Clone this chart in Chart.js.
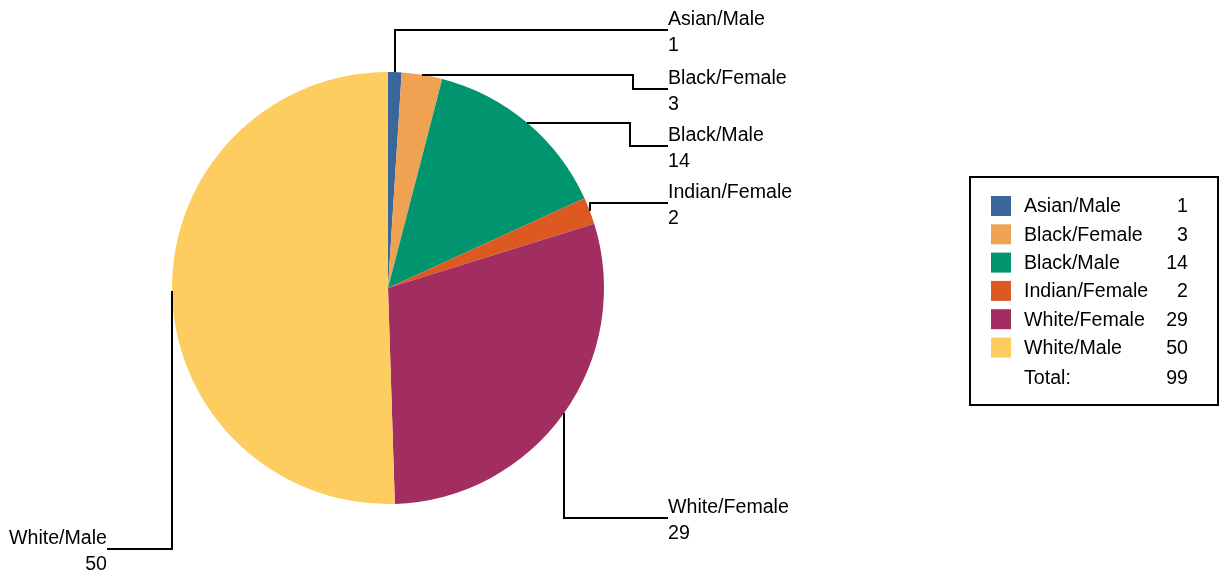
<!DOCTYPE html>
<html>
<head>
<meta charset="utf-8">
<script src="https://cdn.jsdelivr.net/npm/chart.js@4.4.1/dist/chart.umd.min.js"></script>
<style>
  body { margin: 0; background: #fff; }
  #wrap { width: 1231px; height: 579px; }
</style>
</head>
<body>
<div id="wrap"><canvas id="pieChart" width="1231" height="579"></canvas></div>
<script>
// data
const categories = ['Asian/Male', 'Black/Female', 'Black/Male', 'Indian/Female', 'White/Female', 'White/Male'];
const counts = [1, 3, 14, 2, 29, 50];
const sliceColors = ['#3B6699', '#EFA352', '#00956F', '#DC5A21', '#A22D60', '#FDCD60'];

const FONT = '19.6px "Liberation Sans", Arial, sans-serif';

// where each callout ends up (line y at the label, optional elbow x, side)
const leaderLayout = [
    {lineY: 30,  elbowX: null, side: 'right'},
    {lineY: 89,  elbowX: 633,  side: 'right'},
    {lineY: 146, elbowX: 630,  side: 'right'},
    {lineY: 203, elbowX: null, side: 'right'},
    {lineY: 518, elbowX: null, side: 'right'},
    {lineY: 549, elbowX: null, side: 'left'},
];
const rightLabelX = 668;
const leftLabelX = 107;

const leaderPlugin = {
    id: 'leaders',
    afterDatasetsDraw(chart) {
        const ctx = chart.ctx;
        const arcs = chart.getDatasetMeta(0).data;
        ctx.save();
        ctx.strokeStyle = '#000';
        ctx.lineWidth = 2;
        ctx.fillStyle = '#000';
        ctx.font = FONT;
        arcs.forEach((arc, i) => {
            const p = arc.getProps(['x', 'y', 'startAngle', 'endAngle', 'outerRadius'], true);
            const mid = (p.startAngle + p.endAngle) / 2;
            const sx = Math.round(p.x + Math.cos(mid) * p.outerRadius);
            const sy = Math.round(p.y + Math.sin(mid) * p.outerRadius);
            const L = leaderLayout[i];
            const endX = L.side === 'right' ? rightLabelX : leftLabelX;

            ctx.beginPath();
            ctx.moveTo(sx, sy);
            if (L.elbowX !== null) {
                ctx.lineTo(L.elbowX, sy);
                ctx.lineTo(L.elbowX, L.lineY);
            } else {
                ctx.lineTo(sx, L.lineY);
            }
            ctx.lineTo(endX, L.lineY);
            ctx.stroke();

            ctx.textAlign = L.side === 'right' ? 'left' : 'right';
            ctx.textBaseline = 'alphabetic';
            ctx.fillText(categories[i], endX, L.lineY - 5);
            ctx.fillText(String(counts[i]), endX, L.lineY + 21);
        });
        ctx.restore();
    }
};

const legendPlugin = {
    id: 'valueLegend',
    afterDraw(chart) {
        const ctx = chart.ctx;
        const box = {x: 970, y: 177, w: 248, h: 228};
        const rowH = 28.3;
        ctx.save();
        ctx.strokeStyle = '#000';
        ctx.lineWidth = 2;
        ctx.strokeRect(box.x, box.y, box.w, box.h);
        ctx.font = FONT;
        ctx.textBaseline = 'middle';
        categories.forEach((name, i) => {
            const cy = 206 + i * rowH;
            ctx.fillStyle = sliceColors[i];
            ctx.fillRect(991, cy - 10, 20, 20);
            ctx.fillStyle = '#000';
            ctx.textAlign = 'left';
            ctx.fillText(name, 1024, cy + 1);
            ctx.textAlign = 'right';
            ctx.fillText(String(counts[i]), 1188, cy + 1);
        });
        const total = counts.reduce((a, b) => a + b, 0);
        const ty = 206 + categories.length * rowH + 3;
        ctx.textAlign = 'left';
        ctx.fillText('Total:', 1024, ty);
        ctx.textAlign = 'right';
        ctx.fillText(String(total), 1188, ty);
        ctx.restore();
    }
};

const ctx = document.getElementById('pieChart').getContext('2d');
const myChart = new Chart(ctx, {
    type: 'pie',
    data: {
        labels: categories,
        datasets: [{
            data: counts,
            backgroundColor: sliceColors,
            borderWidth: 0,
        }]
    },
    options: {
        responsive: false,
        animation: false,
        layout: {
            padding: {left: 172, right: 627, top: 72, bottom: 75}
        },
        plugins: {
            legend: {display: false},
            tooltip: {enabled: false}
        }
    },
    plugins: [leaderPlugin, legendPlugin]
});
</script>
</body>
</html>
